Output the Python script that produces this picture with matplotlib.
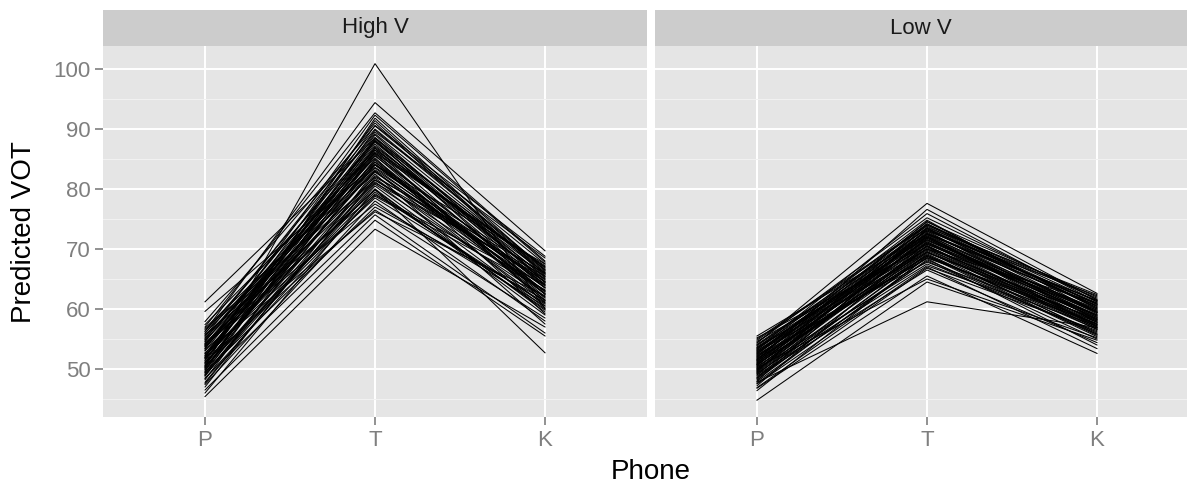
import matplotlib
matplotlib.use("Agg")
import matplotlib.pyplot as plt
from matplotlib.ticker import MultipleLocator, FixedLocator

plt.rcParams['font.family'] = ['Liberation Sans', 'DejaVu Sans']

phones = ["P", "T", "K"]
facets = ["High V", "Low V"]

# Predicted VOT per speaker, high-vowel context
hv_p = [61.2, 59.6, 57.9, 57.4, 57.0, 56.6, 56.3, 56.0, 55.7, 55.4,
        55.1, 54.8, 54.5, 54.2, 54.0, 53.7, 53.4, 53.1, 56.3, 52.6,
        52.3, 52.0, 51.8, 51.5, 51.2, 51.0, 50.7, 50.5, 50.2, 50.3,
        49.8, 49.5, 49.3, 49.0, 48.8, 48.5, 48.2, 47.8, 47.4, 47.0,
        46.5, 46.0, 45.4, 55.9, 54.6, 53.3, 52.2, 51.4, 50.9, 49.9,
        53.8, 56.8, 52.7, 51.1, 54.3, 50.4, 48.9, 55.2, 49.6, 53.0,
        52.5, 51.7, 54.9, 50.6, 53.5, 49.4, 52.0, 55.6, 50.1, 48.4,
        53.9, 51.9, 47.6, 54.1, 49.1]
hv_t = [88.5, 84.0, 90.5, 86.0, 92.7, 81.5, 88.0, 84.5, 79.0, 91.0,
        86.5, 83.0, 89.5, 77.5, 85.5, 82.0, 87.5, 80.0, 94.4, 84.0,
        78.5, 86.0, 81.0, 89.0, 76.5, 83.5, 87.0, 79.5, 85.0, 100.9,
        82.5, 77.0, 88.0, 80.5, 84.5, 75.7, 86.5, 81.5, 78.0, 83.0,
        74.8, 80.0, 73.3, 90.0, 87.8, 92.3, 85.8, 88.6, 84.8, 86.8,
        79.8, 83.6, 76.2, 90.6, 81.2, 78.8, 82.2, 85.2, 91.8, 88.2,
        87.2, 83.2, 89.2, 85.6, 86.2, 80.8, 91.4, 82.8, 88.4, 79.2,
        84.2, 89.8, 81.8, 86.8, 84.0]
hv_k = [66.0, 64.5, 67.5, 67.0, 68.0, 63.0, 66.5, 61.5, 64.0, 65.5,
        67.0, 62.5, 68.5, 60.5, 64.0, 66.0, 63.5, 59.0, 69.7, 67.5,
        61.0, 62.0, 65.5, 64.5, 58.5, 63.0, 66.0, 60.0, 62.5, 60.0,
        57.5, 61.5, 64.0, 59.5, 63.5, 56.0, 61.0, 65.0, 58.0, 60.5,
        55.5, 52.7, 57.0, 66.8, 64.8, 67.8, 63.8, 65.2, 61.8, 62.8,
        59.8, 65.8, 62.2, 68.8, 60.2, 63.2, 64.6, 59.2, 66.4, 62.4,
        65.4, 64.2, 66.2, 61.4, 67.2, 62.0, 65.8, 63.6, 64.4, 60.8,
        62.6, 66.6, 61.2, 65.0, 63.0]

# Predicted VOT per speaker, low-vowel context
lv_p = [55.5, 55.0, 54.6, 54.3, 54.0, 53.7, 53.4, 53.1, 52.8, 52.5,
        52.3, 52.0, 51.8, 51.5, 51.3, 51.0, 50.8, 50.5, 50.3, 50.0,
        49.8, 49.5, 49.3, 49.0, 48.8, 48.5, 48.2, 47.8, 47.5, 47.2,
        46.8, 46.4, 44.8, 54.8, 53.9, 53.2, 52.6, 51.9, 51.1, 50.6,
        49.9, 49.2, 48.6, 47.9, 55.2, 54.4, 52.9, 51.6, 50.2, 48.0,
        53.6, 52.1, 50.9, 49.6, 46.9, 53.0, 51.4, 49.0, 50.4, 52.4,
        52.2, 51.2, 53.3, 50.7, 49.7, 52.7, 48.4, 51.7, 54.1, 50.1,
        49.4, 53.5, 47.6, 51.5, 50.8]
lv_t = [72.5, 74.0, 70.8, 77.6, 73.0, 71.5, 75.9, 69.5, 72.0, 74.5,
        70.0, 73.5, 68.5, 76.6, 71.0, 72.8, 69.0, 74.2, 70.5, 67.5,
        73.2, 71.8, 68.0, 72.2, 66.5, 70.2, 69.2, 61.2, 67.0, 71.2,
        65.5, 68.8, 64.5, 73.8, 72.4, 74.8, 71.2, 73.0, 69.8, 72.6,
        70.6, 69.4, 72.0, 68.2, 70.4, 75.2, 67.8, 74.6, 65.0, 73.4,
        70.0, 68.4, 71.6, 74.0, 66.8, 72.2, 70.8, 67.2, 69.6, 73.6,
        71.4, 73.2, 72.0, 70.0, 71.8, 74.2, 69.0, 68.8, 73.4, 72.4,
        70.4, 71.0, 68.6, 72.6, 69.4]
lv_k = [60.5, 61.8, 59.0, 62.6, 58.2, 60.0, 61.2, 57.5, 59.6, 62.0,
        56.8, 60.8, 58.4, 61.5, 57.2, 59.2, 55.6, 60.2, 58.0, 56.2,
        61.0, 57.8, 55.0, 59.8, 54.4, 58.6, 56.0, 56.9, 53.4, 57.4,
        52.6, 55.4, 54.8, 60.4, 61.4, 59.4, 58.8, 62.2, 56.6, 60.6,
        57.0, 59.0, 58.2, 55.8, 58.0, 61.6, 57.6, 60.0, 55.2, 59.4,
        61.0, 54.0, 58.4, 60.8, 56.4, 57.0, 59.6, 57.2, 55.8, 62.4,
        59.4, 60.2, 58.6, 57.8, 59.0, 61.2, 56.6, 57.4, 60.8, 58.8,
        56.8, 59.8, 57.8, 61.4, 58.2]

W, H = 1187, 484
fig = plt.figure(figsize=(W / 100, H / 100), dpi=100)

PANEL_BG = "#E5E5E5"
STRIP_BG = "#CCCCCC"
GREY = "#7F7F7F"
PX = 170.0  # pixels per category step

def px_axes(x0, y0, x1, y1):
    return fig.add_axes([x0 / W, 1 - y1 / H, (x1 - x0) / W, (y1 - y0) / H])

panels = [
    (facets[0], 103, 647, (hv_p, hv_t, hv_k)),
    (facets[1], 655, 1187, (lv_p, lv_t, lv_k)),
]

ymin, ymax = 42.0, 103.83

for i, (name, x0, x1, (ps, ts, ks)) in enumerate(panels):
    ax = px_axes(x0, 46, x1, 417)
    ax.set_facecolor(PANEL_BG)
    ax.set_xlim(0.4, 0.4 + (x1 - x0) / PX)
    ax.set_ylim(ymin, ymax)
    for s in ax.spines.values():
        s.set_visible(False)
    ax.xaxis.set_major_locator(FixedLocator([1, 2, 3]))
    ax.set_xticklabels(phones)
    ax.yaxis.set_major_locator(MultipleLocator(10))
    ax.yaxis.set_minor_locator(FixedLocator([45, 55, 65, 75, 85, 95]))
    ax.grid(which="major", color="white", lw=1.4)
    ax.grid(which="minor", color="#F2F2F2", lw=0.7)
    ax.xaxis.grid(True, which="major", color="white", lw=1.4)
    ax.set_axisbelow(True)
    ax.tick_params(axis="both", which="major", length=6, width=1.2,
                   color=GREY, labelcolor=GREY, labelsize=16, pad=3)
    ax.tick_params(axis="y", which="minor", length=0)
    if i > 0:
        ax.tick_params(axis="y", which="major", left=False, labelleft=False)
    for p, t, k in zip(ps, ts, ks):
        ax.plot([1, 2, 3], [p, t, k], color="black", lw=0.75,
                solid_joinstyle="miter")

    sax = px_axes(x0, 10, x1, 46)
    sax.set_facecolor(STRIP_BG)
    sax.set_xticks([])
    sax.set_yticks([])
    for s in sax.spines.values():
        s.set_visible(False)
    sax.text(0.5, 0.5, name, transform=sax.transAxes, ha="center",
             va="center", fontsize=16, color="#1A1A1A")

fig.text(24 / W, 1 - 232 / H, "Predicted VOT", rotation=90, ha="center",
         va="center", fontsize=20)
fig.text(651 / W, 1 - 472 / H, "Phone", ha="center", va="center",
         fontsize=20)

fig.savefig("out.png", dpi=100, facecolor="white")
